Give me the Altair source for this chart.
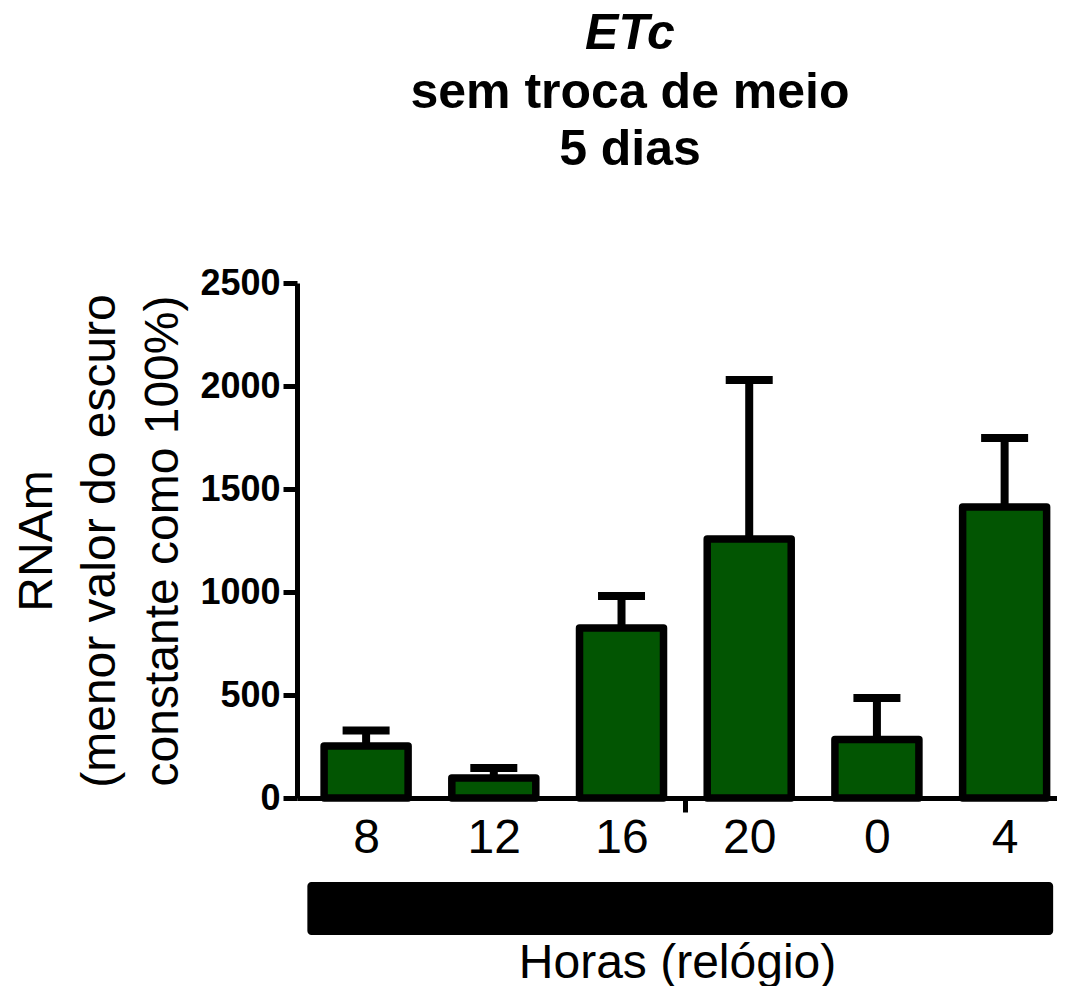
import json
import altair as alt
import pandas as pd

# ---- data ----
hours = ["8", "12", "16", "20", "0", "4"]
mean_values = [252, 97, 825, 1257, 284, 1413]
sem_values = [76, 49, 156, 772, 201, 335]
dark_span = [-0.46, 5.38]          # constant-dark bar, in category units
divider_at = [2.5]                 # single x tick between 16 and 20

y_ticks = [0, 500, 1000, 1500, 2000, 2500]

df = pd.DataFrame({
    "idx": list(range(len(hours))),
    "hour": hours,
    "mean": mean_values,
    "sem": sem_values,
})
df["upper"] = df["mean"] + df["sem"]

dark_df = pd.DataFrame({"start": [dark_span[0]], "end": [dark_span[1]]})

FONT = "Liberation Sans"
W, H = 760, 515

label_expr = ("datum.value == %s ? '' : %s[round(datum.value)]"
              % (divider_at[0], json.dumps(hours)))

x_scale = alt.Scale(domain=[-0.502, 5.371], nice=False, zero=False)
y_scale = alt.Scale(domain=[0, 2500], nice=False)

x_axis = alt.Axis(
    values=list(range(len(hours))) + divider_at,
    labelExpr=label_expr,
    title="Horas (relógio)",
    titleFont=FONT, titleFontSize=48, titleFontWeight="normal",
    titleColor="black", titlePadding=77,
    labelFont=FONT, labelFontSize=48, labelColor="black",
    labelPadding=2, labelFlush=False, labelOverlap=False,
    tickSize=14, tickWidth=5, tickColor="black",
    tickOpacity={"condition": {"test": "datum.value == 2.5", "value": 1}, "value": 0},
    domainWidth=5, domainColor="black", grid=False,
)

y_axis = alt.Axis(
    values=y_ticks,
    format="d",
    title=["RNAm", "(menor valor do escuro", "constante como 100%)"],
    titleFont=FONT, titleFontSize=48, titleFontWeight="normal",
    titleColor="black", titleLineHeight=63,
    titleX=-236, titleY=H / 2, titleAngle=-90, titleAlign="center",
    titleBaseline="bottom",
    labelFont=FONT, labelFontSize=36, labelFontWeight="bold",
    labelColor="black", labelPadding=3,
    tickSize=14, tickWidth=5, tickColor="black",
    domainWidth=5, domainColor="black", grid=False,
)

base = alt.Chart(df)

bars = base.mark_bar(
    size=84, color="#025502", stroke="black", strokeWidth=7.5, strokeJoin="round"
).encode(
    x=alt.X("idx:Q", scale=x_scale, axis=x_axis),
    y=alt.Y("mean:Q", scale=y_scale, axis=y_axis),
)

err_rule = base.mark_rule(color="black", strokeWidth=8).encode(
    x="idx:Q", y="mean:Q", y2="upper:Q"
)

err_cap = base.mark_tick(
    color="black", opacity=1, orient="horizontal", size=47, thickness=8
).encode(x="idx:Q", y="upper:Q")

dark_bar = alt.Chart(dark_df).mark_rect(color="black", cornerRadius=4).encode(
    x="start:Q", x2="end:Q", y=alt.value(H + 84), y2=alt.value(H + 137)
)

chart = alt.layer(err_rule, bars, err_cap, dark_bar).properties(
    width=W,
    height=H,
    title=alt.TitleParams(
        text="ETc",
        subtitle=["sem troca de meio", "5 dias"],
        font=FONT, fontSize=50, fontWeight="bold", fontStyle="italic",
        color="black",
        subtitleFont=FONT, subtitleFontSize=50, subtitleFontWeight="bold",
        subtitleFontStyle="normal", subtitleColor="black",
        subtitleLineHeight=57, subtitlePadding=9,
        anchor="middle", dx=-47, offset=90,
    ),
    autosize=alt.AutoSizeParams(type="none"),
    padding={"left": 289, "top": 275, "right": 0, "bottom": 188},
).configure_view(stroke=None)

chart.save("out.html", embed_options={"renderer": "svg", "actions": False})
